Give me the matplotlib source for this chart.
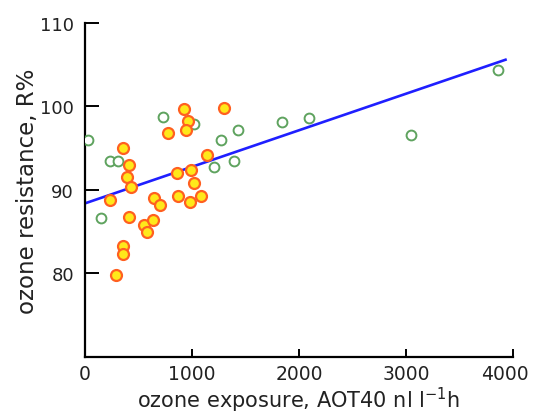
import matplotlib
matplotlib.use("Agg")
import matplotlib.pyplot as plt
import matplotlib.transforms as mtransforms

# Green open circles
green_x = [25, 154, 232, 304, 729, 1016, 1270, 1202, 1427, 1395, 1845, 2096, 3050, 3856]
green_y = [96.0, 86.6, 93.5, 93.5, 98.8, 97.9, 96.0, 92.7, 97.2, 93.5, 98.2, 98.6, 96.6, 104.4]

# Yellow/orange filled circles
orange_x = [928, 1302, 964, 948, 778, 355, 415, 395, 430, 237, 410, 554, 584, 640,
            648, 700, 352, 352, 289, 858, 868, 986, 1016, 982, 1082, 1140]
orange_y = [99.7, 99.8, 98.3, 97.2, 96.8, 95.0, 93.0, 91.5, 90.4, 88.8, 86.8, 85.8, 85.0, 86.4,
            89.1, 88.2, 83.3, 82.3, 79.8, 92.0, 89.3, 92.4, 90.8, 88.6, 89.3, 94.2]

# Regression line end points
line_x = [0, 3930]
line_y = [88.4, 105.6]

x_ticks = [0, 1000, 2000, 3000, 4000]
y_ticks = [80, 90, 100, 110]

plt.rcParams['font.family'] = ['DejaVu Sans']

fig = plt.figure(figsize=(5.36, 4.14), dpi=100)
ax = fig.add_axes([85/536, 56/414, 428/536, 334/414])

ax.plot(line_x, line_y, color='#1f1fff', lw=1.9, zorder=2)
ax.scatter(green_x, green_y, s=50, facecolor='white', edgecolor='#5fa35f', linewidths=1.4, zorder=3)
ax.scatter(orange_x, orange_y, s=62, facecolor='#ffe81a', edgecolor='#ff6020', linewidths=1.6, zorder=4)

ax.set_xlim(0, 4000)
ax.set_ylim(70, 110)
ax.set_xticks(x_ticks)
ax.set_yticks(y_ticks)
ax.set_xticklabels([str(v) for v in x_ticks])
ax.set_yticklabels([str(v) for v in y_ticks])

for s in ['top', 'right']:
    ax.spines[s].set_visible(False)
for s in ['left', 'bottom']:
    ax.spines[s].set_linewidth(1.6)
    ax.spines[s].set_color('black')

ax.tick_params(axis='x', direction='in', length=6, width=1.4, labelsize=13.5, pad=5,
               colors='black', labelcolor='#222222')
ax.tick_params(axis='y', direction='in', length=10, width=1.4, labelsize=13, pad=8,
               colors='black', labelcolor='#222222')

# nudge the last x tick label left so it stays inside the figure, like the reference
last = ax.get_xticklabels()[-1]
last.set_transform(last.get_transform() + mtransforms.ScaledTranslation(-8/100, 0, fig.dpi_scale_trans))

ax.set_xlabel(r'ozone exposure, AOT40 nl l$^{\mathregular{-1}}$h', fontsize=15, labelpad=1, color='#222222')
ax.set_ylabel('ozone resistance, R%', fontsize=16.5, labelpad=1, color='#222222')

fig.savefig('out.png', dpi=100)
